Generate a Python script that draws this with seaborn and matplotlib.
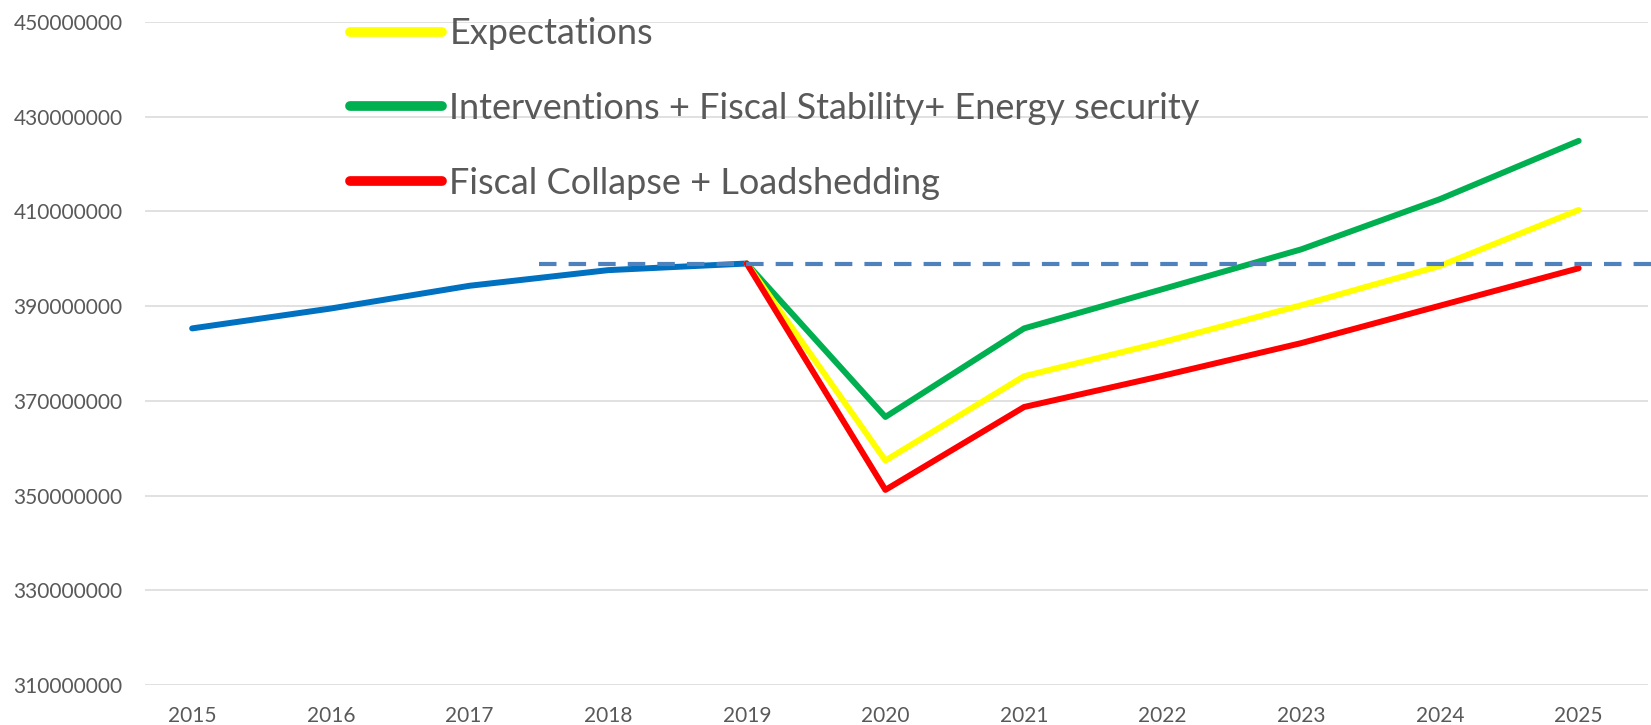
import matplotlib
matplotlib.use('Agg')

import seaborn as sns
import matplotlib.pyplot as plt
from matplotlib.ticker import FuncFormatter

sns.set_theme(style="white")
plt.rcParams['font.family'] = ['Lato', 'DejaVu Sans']

# historical series and scenario projections
hist_years = [2015, 2016, 2017, 2018, 2019]
hist_vals = [385.3e6, 389.5e6, 394.3e6, 397.6e6, 399.0e6]

scen_years = [2019, 2020, 2021, 2022, 2023, 2024, 2025]
expectations = [399.0e6, 357.4e6, 375.2e6, 382.4e6, 390.2e6, 398.5e6, 410.3e6]
interventions = [399.0e6, 366.6e6, 385.3e6, 393.6e6, 402.0e6, 412.6e6, 424.9e6]
collapse = [399.0e6, 351.2e6, 368.7e6, 375.3e6, 382.2e6, 390.1e6, 398.0e6]

# dashed reference level (2019 value)
ref_level = 399.0e6
ref_span = [2017.5, 2025.53]

year_ticks = list(range(2015, 2026))
y_ticks = [310e6, 330e6, 350e6, 370e6, 390e6, 410e6, 430e6, 450e6]
text_col = '#595959'

fig = plt.figure(figsize=(16.51, 7.25), dpi=100)
ax = fig.add_axes([145 / 1651, 1 - 685 / 725, (1648 - 145) / 1651, (685 - 22) / 725])

lw = 4.3
kw = dict(solid_capstyle='round', solid_joinstyle='round')
sns.lineplot(x=hist_years, y=hist_vals, color='#0070C0', linewidth=lw, ax=ax, **kw)
sns.lineplot(x=scen_years, y=interventions, color='#00B050', linewidth=lw, ax=ax,
             label='Interventions + Fiscal Stability+ Energy security', **kw)
sns.lineplot(x=scen_years, y=expectations, color='#FFFF00', linewidth=lw, ax=ax,
             label='Expectations', **kw)
sns.lineplot(x=scen_years, y=collapse, color='#FF0000', linewidth=lw, ax=ax,
             label='Fiscal Collapse + Loadshedding', **kw)

ax.plot(ref_span, [ref_level, ref_level], color='#4F81BD', linewidth=3.0,
        dashes=(4.2, 2.9), clip_on=False, zorder=5)

ax.set_xlim(2014.66, 2025.5)
ax.set_ylim(310e6, 450e6)
ax.set_yticks(y_ticks)
ax.yaxis.set_major_formatter(FuncFormatter(lambda v, p: '%d' % round(v)))
ax.set_xticks(year_ticks)
ax.set_xticklabels([str(y) for y in year_ticks])

ax.grid(axis='y', color='#D9D9D9', linewidth=1.1)
ax.grid(axis='x', visible=False)
for s in ax.spines.values():
    s.set_visible(False)
ax.tick_params(axis='y', length=0, pad=16, labelsize=15, labelcolor=text_col)
ax.tick_params(axis='x', length=0, pad=15, labelsize=15, labelcolor=text_col)
ax.set_xlabel('')
ax.set_ylabel('')

# legend in order: yellow, green, red
handles, labels = ax.get_legend_handles_labels()
order = [labels.index('Expectations'),
         labels.index('Interventions + Fiscal Stability+ Energy security'),
         labels.index('Fiscal Collapse + Loadshedding')]
leg = ax.legend([handles[i] for i in order], [labels[i] for i in order],
                loc='upper left', bbox_to_anchor=(350 / 1651, 1 - 17.5 / 725),
                bbox_transform=fig.transFigure, frameon=False, borderpad=0,
                borderaxespad=0, fontsize=26, handlelength=2.55,
                handletextpad=0.2, labelspacing=1.15)
for line in leg.get_lines():
    line.set_linewidth(7)
    line.set_solid_capstyle('round')
for t in leg.get_texts():
    t.set_color(text_col)

plt.savefig('out.png', dpi=100)
plt.close()
